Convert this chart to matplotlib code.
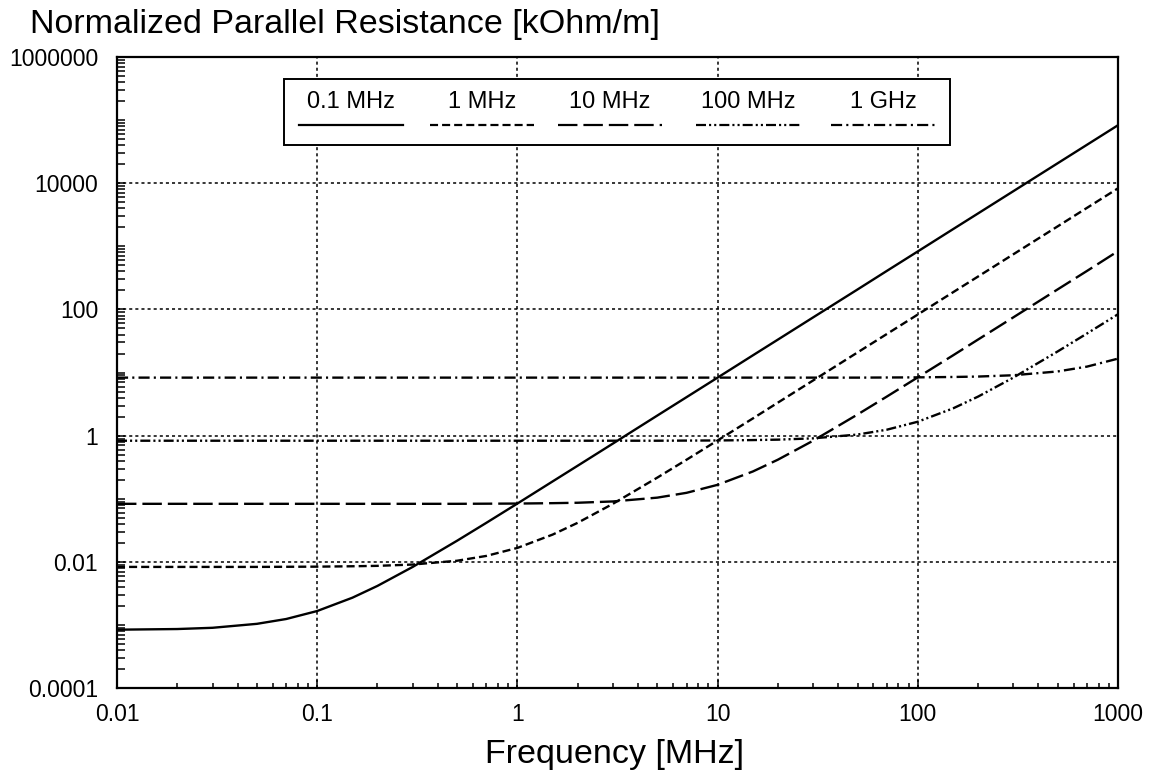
import matplotlib
matplotlib.use("Agg")
from matplotlib import pyplot as plt
from matplotlib.ticker import FixedLocator, LogLocator, NullFormatter
from matplotlib.lines import Line2D
from matplotlib.patches import Rectangle

plt.rcParams['font.family'] = ['Liberation Sans', 'DejaVu Sans']
plt.rcParams['lines.scale_dashes'] = False

# frequency [MHz]
freq = [0.01, 0.02, 0.03, 0.05, 0.07, 0.1, 0.15, 0.2, 0.3, 0.5, 0.7,
        1, 1.5, 2, 3, 5, 7, 10, 15, 20, 30, 50, 70, 100, 150, 200, 300,
        500, 700, 1000]

# normalized parallel resistance [kOhm/m]
r_01mhz = [0.00084, 0.00086, 0.0009, 0.00104, 0.00124, 0.00166, 0.0027,
           0.00415, 0.0083, 0.0216, 0.0415, 0.0838, 0.188, 0.333, 0.748,
           2.08, 4.07, 8.3, 18.7, 33.2, 74.7, 207, 407, 830, 1870, 3320,
           7470, 20750, 40670, 83000]
r_1mhz = [0.0083, 0.0083, 0.0083, 0.0083, 0.00834, 0.00838, 0.0085,
          0.00863, 0.00905, 0.0104, 0.0124, 0.0166, 0.027, 0.0415, 0.083,
          0.216, 0.415, 0.838, 1.87, 3.33, 7.48, 20.8, 40.7, 83, 187, 332,
          747, 2075, 4067, 8300]
r_10mhz = [0.083, 0.083, 0.083, 0.083, 0.083, 0.083, 0.083, 0.083, 0.083,
           0.083, 0.0834, 0.0838, 0.085, 0.0863, 0.0905, 0.104, 0.124,
           0.166, 0.27, 0.415, 0.83, 2.16, 4.15, 8.38, 18.7, 33.3, 74.8,
           208, 407, 838]
r_100mhz = [0.83, 0.83, 0.83, 0.83, 0.83, 0.83, 0.83, 0.83, 0.83, 0.83,
            0.83, 0.83, 0.83, 0.83, 0.83, 0.83, 0.834, 0.838, 0.85, 0.863,
            0.905, 1.04, 1.24, 1.66, 2.7, 4.15, 8.3, 21.6, 41.5, 83.8]
r_1ghz = [8.3, 8.3, 8.3, 8.3, 8.3, 8.3, 8.3, 8.3, 8.3, 8.3, 8.3, 8.3, 8.3,
          8.3, 8.3, 8.3, 8.3, 8.3, 8.3, 8.3, 8.3, 8.3, 8.34, 8.38, 8.5,
          8.63, 9.05, 10.4, 12.4, 16.6]

series = [r_01mhz, r_1mhz, r_10mhz, r_100mhz, r_1ghz]
labels = ["0.1 MHz", "1 MHz", "10 MHz", "100 MHz", "1 GHz"]
styles = ['-', (0, (5.8, 2.9)), (0, (14, 4.3)),
          (0, (7.2, 2.2, 1.5, 2.2, 1.5, 2.2)), (0, (8, 3, 1.5, 3))]

x_ticks = [0.01, 0.1, 1, 10, 100, 1000]
x_labels = ["0.01", "0.1", "1", "10", "100", "1000"]
y_ticks = [0.0001, 0.01, 1, 100, 10000, 1000000]
y_labels = ["0.0001", "0.01", "1", "100", "10000", "1000000"]

fig = plt.figure(figsize=(11.56, 7.76), dpi=100)
ax = fig.add_axes([0.1012, 0.1134, 0.8659, 0.8131])

for y, ls in zip(series, styles):
    ax.plot(freq, y, color='black', lw=1.7, linestyle=ls, zorder=3)

ax.set_xscale('log')
ax.set_yscale('log')
ax.set_xlim(0.01, 1000)
ax.set_ylim(0.0001, 1000000)

ax.xaxis.set_major_locator(FixedLocator(x_ticks))
ax.set_xticklabels(x_labels)
ax.yaxis.set_major_locator(FixedLocator(y_ticks))
ax.set_yticklabels(y_labels)
ax.xaxis.set_minor_locator(LogLocator(base=10, subs=range(2, 10), numticks=100))
ax.yaxis.set_minor_locator(LogLocator(base=10, subs=range(1, 10), numticks=100))
ax.xaxis.set_minor_formatter(NullFormatter())
ax.yaxis.set_minor_formatter(NullFormatter())

ax.tick_params(which='both', direction='in', top=False, right=False,
               width=1.1, labelsize=16.5)
ax.tick_params(axis='x', which='major', length=5.8, pad=11)
ax.tick_params(axis='x', which='minor', length=3.6)
ax.tick_params(axis='y', which='major', length=6, pad=13.5)
ax.tick_params(axis='y', which='minor', length=5.8)

ax.grid(True, which='major', color='black', lw=1.1, linestyle=(0, (2.2, 2.2)))
for s in ax.spines.values():
    s.set_linewidth(1.6)

# legend box, text above line samples
fig.patches.append(Rectangle((0.2457, 0.8131), 0.5761, 0.0851, transform=fig.transFigure,
                             facecolor='white', edgecolor='black', lw=1.4, zorder=5))
centers = [351, 482, 610, 748, 883]
for c, lab, ls in zip(centers, labels, styles):
    xc = c / 1156
    fig.text(xc, 0.868, lab, ha='center', va='center', fontsize=17, zorder=6)
    fig.lines.append(Line2D([xc - 0.045, xc + 0.045], [0.839, 0.839], transform=fig.transFigure,
                            color='black', lw=1.6, linestyle=ls, zorder=6))

fig.text(0.026, 0.957, "Normalized Parallel Resistance [kOhm/m]", fontsize=24.5,
         ha='left', va='baseline')
fig.text(0.532, 0.0168, "Frequency [MHz]", fontsize=24.5, ha='center', va='baseline')

fig.savefig("out.png", dpi=100)
